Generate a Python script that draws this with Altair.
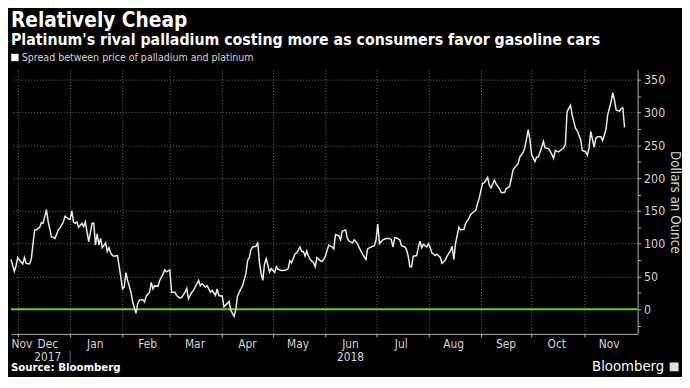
import altair as alt
import pandas as pd

FONT = "DejaVu Sans Condensed, Liberation Sans Narrow, DejaVu Sans, sans-serif"

title_text = "Relatively Cheap"
subtitle_text = "Platinum's rival palladium costing more as consumers favor gasoline cars"
series_name = "Spread between price of palladium and platinum"
y_title = "Dollars an Ounce"
source_text = "Source: Bloomberg"
brand_text = "Bloomberg"

dates = [
    "2017-11-27", "2017-11-29", "2017-11-30",
    "2017-12-01", "2017-12-02", "2017-12-04", "2017-12-05", "2017-12-06", "2017-12-08", "2017-12-09",
    "2017-12-11", "2017-12-12", "2017-12-14", "2017-12-15", "2017-12-16", "2017-12-18", "2017-12-19",
    "2017-12-21", "2017-12-22", "2017-12-23", "2017-12-25", "2017-12-26", "2017-12-28", "2017-12-29",
    "2017-12-31",
    "2018-01-01", "2018-01-02", "2018-01-03", "2018-01-04", "2018-01-05", "2018-01-06", "2018-01-08",
    "2018-01-09", "2018-01-10", "2018-01-12", "2018-01-14", "2018-01-15", "2018-01-16", "2018-01-17",
    "2018-01-18", "2018-01-19", "2018-01-20", "2018-01-22", "2018-01-23", "2018-01-24", "2018-01-25",
    "2018-01-26", "2018-01-27", "2018-01-29", "2018-01-30", "2018-01-31",
    "2018-02-01", "2018-02-02", "2018-02-03", "2018-02-04", "2018-02-06", "2018-02-07", "2018-02-09",
    "2018-02-10", "2018-02-11", "2018-02-13", "2018-02-14", "2018-02-15", "2018-02-17", "2018-02-18",
    "2018-02-19", "2018-02-20", "2018-02-22", "2018-02-23", "2018-02-25", "2018-02-26", "2018-02-27",
    "2018-03-01", "2018-03-02", "2018-03-04", "2018-03-05", "2018-03-07", "2018-03-08", "2018-03-10",
    "2018-03-11", "2018-03-12", "2018-03-14", "2018-03-15", "2018-03-16", "2018-03-18", "2018-03-19",
    "2018-03-20", "2018-03-22", "2018-03-23", "2018-03-24", "2018-03-25", "2018-03-26", "2018-03-28",
    "2018-03-29", "2018-03-30",
    "2018-04-01", "2018-04-02", "2018-04-04", "2018-04-05", "2018-04-06", "2018-04-07", "2018-04-08",
    "2018-04-09", "2018-04-10", "2018-04-12", "2018-04-13", "2018-04-15", "2018-04-16", "2018-04-17",
    "2018-04-18", "2018-04-19", "2018-04-21", "2018-04-22", "2018-04-23", "2018-04-24", "2018-04-25",
    "2018-04-26", "2018-04-27", "2018-04-29", "2018-04-30",
    "2018-05-01", "2018-05-02", "2018-05-03", "2018-05-04", "2018-05-06", "2018-05-07", "2018-05-09",
    "2018-05-10", "2018-05-11", "2018-05-12", "2018-05-14", "2018-05-15", "2018-05-17", "2018-05-18",
    "2018-05-19", "2018-05-20", "2018-05-21", "2018-05-22", "2018-05-23", "2018-05-25", "2018-05-26",
    "2018-05-27", "2018-05-29", "2018-05-30", "2018-05-31",
    "2018-06-01", "2018-06-03", "2018-06-05", "2018-06-06", "2018-06-07", "2018-06-09", "2018-06-10",
    "2018-06-11", "2018-06-13", "2018-06-14", "2018-06-15", "2018-06-17", "2018-06-18", "2018-06-20",
    "2018-06-21", "2018-06-23", "2018-06-25", "2018-06-26", "2018-06-28", "2018-06-30",
    "2018-07-01", "2018-07-02", "2018-07-03", "2018-07-05", "2018-07-07", "2018-07-09", "2018-07-10",
    "2018-07-11", "2018-07-12", "2018-07-13", "2018-07-15", "2018-07-16", "2018-07-18", "2018-07-19",
    "2018-07-20", "2018-07-21", "2018-07-22", "2018-07-23", "2018-07-25", "2018-07-26", "2018-07-27",
    "2018-07-28", "2018-07-29", "2018-07-31",
    "2018-08-01", "2018-08-02", "2018-08-03", "2018-08-05", "2018-08-06", "2018-08-08", "2018-08-09",
    "2018-08-11", "2018-08-12", "2018-08-14", "2018-08-15", "2018-08-16", "2018-08-17", "2018-08-19",
    "2018-08-20", "2018-08-22", "2018-08-23", "2018-08-25", "2018-08-26", "2018-08-28", "2018-08-29",
    "2018-08-30", "2018-08-31",
    "2018-09-01", "2018-09-02", "2018-09-03", "2018-09-05", "2018-09-06", "2018-09-07", "2018-09-09",
    "2018-09-10", "2018-09-12", "2018-09-13", "2018-09-15", "2018-09-16", "2018-09-18", "2018-09-19",
    "2018-09-20", "2018-09-21", "2018-09-23", "2018-09-24", "2018-09-26", "2018-09-27", "2018-09-29",
    "2018-09-30",
    "2018-10-01", "2018-10-03", "2018-10-04", "2018-10-05", "2018-10-07", "2018-10-08", "2018-10-09",
    "2018-10-11", "2018-10-12", "2018-10-13", "2018-10-14", "2018-10-15", "2018-10-17", "2018-10-18",
    "2018-10-20", "2018-10-21", "2018-10-22", "2018-10-24", "2018-10-25", "2018-10-27", "2018-10-28",
    "2018-10-30", "2018-10-31",
    "2018-11-02", "2018-11-03", "2018-11-04", "2018-11-05", "2018-11-07", "2018-11-08", "2018-11-09",
    "2018-11-11", "2018-11-12", "2018-11-14", "2018-11-15", "2018-11-17", "2018-11-18", "2018-11-19",
    "2018-11-20", "2018-11-22", "2018-11-23", "2018-11-24", "2018-11-25",
]

spread = [
    76, 58, 66,
    79, 75, 69, 79, 70, 69, 76,
    121, 121, 125, 132, 131, 152, 134,
    110, 110, 108, 121, 124, 133, 142,
    138,
    137, 150, 133, 131, 133, 125, 131,
    126, 133, 103, 131, 131, 98, 115,
    98, 108, 94, 101, 88, 94, 86,
    82, 81, 82, 66, 49,
    31, 34, 56, 44, 26, 11, -6,
    9, 14, 15, 11, 20, 26, 41,
    31, 36, 35, 44, 54, 60, 57,
    60, 26, 26, 21, 17, 18, 26,
    32, 16, 26, 29, 34, 44, 36,
    39, 34, 36, 31, 26, 29, 21,
    31, 21,
    20, 4, 9, 12, -1, -6, -11,
    -1, 20, 31, 36, 54, 74, 79,
    91, 95, 96, 102, 71, 54, 44,
    69, 77, 57, 62,
    59, 56, 65, 61, 59, 59, 60,
    62, 74, 71, 84, 86, 95, 88,
    88, 81, 89, 81, 76, 71, 65,
    79, 74, 73, 76,
    81, 98, 95, 92, 114, 112, 106,
    119, 121, 108, 104, 101, 106, 100,
    94, 84, 76, 92, 95, 97,
    106, 130, 100, 106, 108, 108, 106,
    95, 109, 109, 106, 97, 95, 91,
    81, 65, 65, 81, 82, 94, 104,
    94, 99, 95,
    100, 94, 86, 82, 84, 79, 70,
    75, 81, 89, 96, 76, 100, 125,
    121, 122, 131, 139, 145, 149, 151,
    161, 169,
    181, 192, 193, 201, 189, 185, 197,
    191, 184, 178, 178, 184, 187, 199,
    212, 216, 222, 232, 239, 246, 274,
    259,
    236, 225, 232, 232, 247, 256, 246,
    245, 241, 236, 230, 242, 240, 242,
    246, 252, 301, 311, 296, 276, 272,
    259, 242,
    240, 235, 246, 271, 247, 261, 263,
    263, 257, 274, 296, 316, 330, 319,
    304, 302, 306, 307, 277,
]

# x-axis tick anchors: domain start (for the partial "Nov" label), then month starts
month_ticks = [
    (2017, 11, 27), (2017, 12, 1), (2018, 1, 1), (2018, 2, 1), (2018, 3, 1), (2018, 4, 1),
    (2018, 5, 1), (2018, 6, 1), (2018, 7, 1), (2018, 8, 1), (2018, 9, 1), (2018, 10, 1),
    (2018, 11, 1),
]
x_start = (2017, 11, 27)
x_end = (2018, 12, 2)
year_split = "2018-01-01"
y_ticks = list(range(-25, 351, 25))
y_domain = [-37.5, 365]

W, H = 636, 268

GRID = "#6e6e6e"
AXIS = "#b4b4b4"
TEXT = "#d6d6d6"
LINE = "#ececec"
GREEN = "#74c71f"

df = pd.DataFrame({"date": dates, "spread": spread})

first_test = "datum.value < utc(2017, 10, 30)"
dec_test = "datum.value < utc(2017, 11, 5)"

x_scale = alt.Scale(
    type="utc",
    domain=[
        alt.DateTime(year=x_start[0], month=x_start[1], date=x_start[2], utc=True),
        alt.DateTime(year=x_end[0], month=x_end[1], date=x_end[2], hours=18, utc=True),
    ],
    nice=False,
)
y_scale = alt.Scale(domain=y_domain, nice=False, zero=False)

x_axis = alt.Axis(
    values=[alt.DateTime(year=a, month=b, date=c, utc=True) for a, b, c in month_ticks],
    tickCount=30,
    labelExpr=(
        "(utcyear(datum.value) == 2017 && utcmonth(datum.value) == 11) ? ['Dec', '2017'] : "
        "(utcyear(datum.value) == 2018 && utcmonth(datum.value) == 5) ? ['Jun', '2018'] : "
        "utcFormat(datum.value, '%b')"
    ),
    title=None,
    grid=True,
    gridColor=GRID,
    gridDash=[1, 2],
    gridOpacity={"condition": {"test": first_test, "value": 0}, "value": 1},
    tickOpacity={"condition": {"test": first_test, "value": 0}, "value": 1},
    labelOffset={"condition": [
        {"test": first_test, "value": 0},
        {"test": dec_test, "value": 30},
    ], "value": 25},
    labelAlign={"condition": {"test": first_test, "value": "left"}, "value": "center"},
    domainColor=AXIS,
    tickColor=AXIS,
    tickSize=3,
    labelColor=TEXT,
    labelFont=FONT,
    labelFontSize=12,
    labelPadding=2,
    labelOverlap=False,
    labelBound=False,
    labelLineHeight=13,
)

y_axis = alt.Axis(
    orient="right",
    values=y_ticks,
    tickCount=30,
    labelExpr="datum.value >= 0 && datum.value % 50 == 0 ? datum.label : ''",
    grid=True,
    gridColor=GRID,
    gridDash=[1, 2],
    gridOpacity={"condition": {"test": "datum.value > 0 && datum.value % 50 == 0", "value": 1}, "value": 0},
    tickSize=3,
    domainColor=AXIS,
    tickColor=AXIS,
    labelColor=TEXT,
    labelFont=FONT,
    labelFontSize=12.5,
    labelPadding=3,
    labelOverlap=False,
    title=y_title,
    titleColor=TEXT,
    titleFont=FONT,
    titleFontSize=13.5,
    titleFontWeight="normal",
    titlePadding=3,
)

line = alt.Chart(df).mark_line(color=LINE, strokeWidth=1.5).encode(
    x=alt.X("date:T", scale=x_scale, axis=x_axis),
    y=alt.Y("spread:Q", scale=y_scale, axis=y_axis),
)

one = pd.DataFrame({"k": [0]})

zero_line = alt.Chart(one).mark_rule(color=GREEN, strokeWidth=2).encode(
    y=alt.datum(0),
)

year_sep = alt.Chart(pd.DataFrame({"d": [year_split]})).mark_rule(color="#6a6a6a", strokeWidth=1).encode(
    x=alt.X("d:T"),
    y=alt.value(H + 17),
    y2=alt.value(H + 30),
)

legend_sq = alt.Chart(one).mark_square(color="#ffffff", size=56, opacity=1).encode(
    x=alt.value(4),
    y=alt.value(-12.5),
)
legend_txt = alt.Chart(pd.DataFrame({"t": [series_name]})).mark_text(
    align="left", baseline="alphabetic", color=TEXT, font=FONT, fontSize=10.7
).encode(text="t:N", x=alt.value(11), y=alt.value(-9))

source = alt.Chart(pd.DataFrame({"t": [source_text]})).mark_text(
    align="left", baseline="alphabetic", color="#ffffff", font=FONT, fontSize=11.5, fontWeight="bold"
).encode(text="t:N", x=alt.value(0), y=alt.value(H + 38))

brand = alt.Chart(pd.DataFrame({"t": [brand_text]})).mark_text(
    align="right", baseline="alphabetic", color="#ffffff", font=FONT, fontSize=15
).encode(text="t:N", x=alt.value(W + 27), y=alt.value(H + 38))

brand_icon = alt.Chart(one).mark_square(color="#e0e0e0", size=81, opacity=1).encode(
    x=alt.value(W + 37),
    y=alt.value(H + 33.5),
)

chart = alt.layer(
    zero_line, line, year_sep, legend_sq, legend_txt, source, brand, brand_icon
).properties(
    width=W,
    height=H,
    padding=0,
    background="#000000",
    title=alt.TitleParams(
        text=title_text,
        subtitle=subtitle_text,
        anchor="start",
        frame="group",
        font=FONT,
        fontSize=21,
        fontWeight="bold",
        color="#ffffff",
        subtitleFont=FONT,
        subtitleFontSize=16,
        subtitleFontWeight="bold",
        subtitleColor="#ffffff",
        subtitlePadding=1,
        offset=4,
    ),
).configure_view(stroke=None)

chart.save("out.html", embed_options={"renderer": "svg", "actions": False})
